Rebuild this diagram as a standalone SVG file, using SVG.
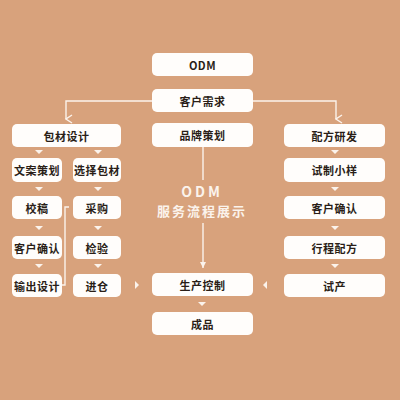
<svg xmlns="http://www.w3.org/2000/svg" width="400" height="400" viewBox="0 0 400 400">
<defs>
<style>
.box{fill:#fffdfb;}
.t{font-family:"Noto Sans CJK SC","Noto Sans",sans-serif;font-size:11px;font-weight:bold;fill:#2a1e17;text-anchor:middle;dominant-baseline:central;letter-spacing:0.5px;}
.ln{fill:none;stroke:#fbf3ec;stroke-width:1.4;}
.tri{fill:#fbf3ec;}
.title{font-family:"Noto Sans CJK SC","Noto Sans",sans-serif;font-weight:bold;fill:#fbf3ec;text-anchor:middle;dominant-baseline:central;}
</style>
<marker id="v" viewBox="0 0 10 10" refX="5" refY="9" markerWidth="10" markerHeight="10" markerUnits="userSpaceOnUse" orient="auto-start-reverse">
<path d="M1,3 L5,9 L9,3" fill="none" stroke="#fbf3ec" stroke-width="1.4"/>
</marker>
<marker id="s" viewBox="0 0 6 6" refX="3" refY="6" markerWidth="6" markerHeight="6" markerUnits="userSpaceOnUse">
<path d="M0,0 L6,0 L3,6 Z" fill="#fbf3ec"/>
</marker>
</defs>
<rect width="400" height="400" fill="#d8a27c"/>
<g id="connectors">
<polyline class="ln" points="152,101 66,101 66,119" marker-end="url(#v)"/>
<polyline class="ln" points="253,101 336,101 336,119" marker-end="url(#v)"/>
<polyline class="ln" points="62,285 65,285 65,207 69,207" stroke-width="1.1"/>
<line class="ln" x1="203" y1="147" x2="203" y2="180" stroke-width="1"/>
<line class="ln" x1="203" y1="223" x2="203" y2="268" stroke-width="1" marker-end="url(#s)"/>
<path class="tri" d="M35,150 h8 l-4,4 z M94,150 h8 l-4,4 z M35,187 h8 l-4,4 z M94,187 h8 l-4,4 z M35,226 h8 l-4,4 z M94,226 h8 l-4,4 z M35,264 h8 l-4,4 z M94,264 h8 l-4,4 z"/>
<path class="tri" d="M331,150 h8 l-4,4 z M331,187 h8 l-4,4 z M331,226 h8 l-4,4 z M331,264 h8 l-4,4 z M198,302 h8 l-4,4 z"/>
<path class="tri" d="M135,281 v8 l4,-4 z M267,281 v8 l-4,-4 z"/>
</g>
<g id="title">
<text class="title" x="202" y="191" font-size="14" letter-spacing="3">ODM</text>
<text class="title" x="202" y="210" font-size="13" letter-spacing="2">服务流程展示</text>
</g>
<g id="n-odm"><rect class="box" x="152" y="53" width="101" height="23" rx="5"/><text class="t" x="202.5" y="64.5" font-size="10" letter-spacing="1.5">ODM</text></g>
<g id="n-req"><rect class="box" x="152" y="89" width="101" height="23" rx="5"/><text class="t" x="202.5" y="100.5">客户需求</text></g>
<g id="n-brand"><rect class="box" x="152" y="123" width="101" height="24" rx="5"/><text class="t" x="202.5" y="135">品牌策划</text></g>
<g id="n-pack"><rect class="box" x="12" y="124" width="109" height="23" rx="5"/><text class="t" x="66.5" y="135.5">包材设计</text></g>
<g id="n-formula"><rect class="box" x="284" y="124" width="101" height="23" rx="5"/><text class="t" x="334.5" y="135.5">配方研发</text></g>
<g id="n-copy"><rect class="box" x="12" y="158" width="50" height="24" rx="5"/><text class="t" x="37" y="170" letter-spacing="0">文案策划</text></g>
<g id="n-select"><rect class="box" x="73" y="158" width="48" height="24" rx="5"/><text class="t" x="97" y="170" letter-spacing="0">选择包材</text></g>
<g id="n-proof"><rect class="box" x="12" y="196" width="50" height="23" rx="5"/><text class="t" x="37" y="207.5">校稿</text></g>
<g id="n-buy"><rect class="box" x="73" y="196" width="48" height="23" rx="5"/><text class="t" x="97" y="207.5">采购</text></g>
<g id="n-confirm1"><rect class="box" x="12" y="236" width="50" height="23" rx="5"/><text class="t" x="37" y="247.5" letter-spacing="0">客户确认</text></g>
<g id="n-check"><rect class="box" x="73" y="236" width="48" height="23" rx="5"/><text class="t" x="97" y="247.5">检验</text></g>
<g id="n-output"><rect class="box" x="12" y="274" width="50" height="23" rx="5"/><text class="t" x="37" y="285.5" letter-spacing="0">输出设计</text></g>
<g id="n-store"><rect class="box" x="73" y="274" width="48" height="23" rx="5"/><text class="t" x="97" y="285.5">进仓</text></g>
<g id="n-sample"><rect class="box" x="284" y="158" width="101" height="24" rx="5"/><text class="t" x="334.5" y="170">试制小样</text></g>
<g id="n-confirm2"><rect class="box" x="284" y="196" width="101" height="23" rx="5"/><text class="t" x="334.5" y="207.5">客户确认</text></g>
<g id="n-process"><rect class="box" x="284" y="236" width="101" height="23" rx="5"/><text class="t" x="334.5" y="247.5">行程配方</text></g>
<g id="n-trial"><rect class="box" x="284" y="274" width="101" height="23" rx="5"/><text class="t" x="334.5" y="285.5">试产</text></g>
<g id="n-prod"><rect class="box" x="152" y="273" width="101" height="23" rx="5"/><text class="t" x="202.5" y="284.5">生产控制</text></g>
<g id="n-final"><rect class="box" x="152" y="312" width="101" height="23" rx="5"/><text class="t" x="202.5" y="323.5">成品</text></g>
</svg>
